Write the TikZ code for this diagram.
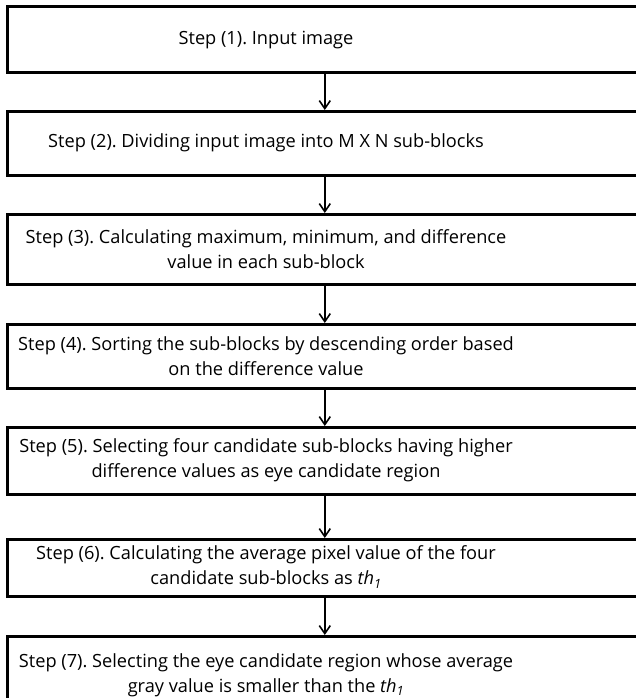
\documentclass[tikz,border=0pt]{standalone}
\usepackage{fontspec}
\setmainfont{Open Sans}
\usetikzlibrary{arrows.meta}
\begin{document}
\frenchspacing
\begin{tikzpicture}[x=1pt,y=-1pt,
  stepbox/.style={draw=black,line width=2.6pt,minimum width=635pt,
    inner sep=0pt,anchor=north west},
  steptext/.style={align=center,inner sep=0pt,
    font=\fontsize{18.2}{25}\selectfont},
  flow/.style={draw=black,line width=1.6pt,
    -{Straight Barb[length=8pt,width=11pt,line width=1.6pt]}}]
\useasboundingbox (0,0) rectangle (636,698);
\fill[white] (0,0) rectangle (636,698);

% boxes
\node[stepbox,minimum height=66pt] (b1) at (6,5)   {};
\node[stepbox,minimum height=64pt] (b2) at (6,110) {};
\node[stepbox,minimum height=70pt] (b3) at (6,213) {};
\node[stepbox,minimum height=64pt] (b4) at (6,323) {};
\node[stepbox,minimum height=67pt] (b5) at (6,426) {};
\node[stepbox,minimum height=57pt] (b6) at (6,538) {};
\node[stepbox,minimum height=72pt] (b7) at (6,635) {};

% labels
\node[steptext] (t1) at (266,40)  {Step (1). Input image};
\node[steptext] (t2) at (266,143) {Step (2). Dividing input image into M X N sub-blocks};
\node[steptext] (t3) at (266,249) {Step (3). Calculating maximum, minimum, and difference\\value in each sub-block};
\node[steptext] (t4) at (266,356) {Step (4). Sorting the sub-blocks by descending order based\\on the difference value};
\node[steptext] (t5) at (266,460) {Step (5). Selecting four candidate sub-blocks having higher\\difference values as eye candidate region};
\node[steptext] (t6) at (266,567) {Step (6). Calculating the average pixel value of the four\\candidate sub-blocks as \textit{th}\textsubscript{\textit{1}}};
\node[steptext] (t7) at (266,675) {Step (7). Selecting the eye candidate region whose average\\gray value is smaller than the \textit{th}\textsubscript{\textit{1}}};

% connectors
\draw[flow] (b1.south) -- (b2.north);
\draw[flow] (b2.south) -- (b3.north);
\draw[flow] (b3.south) -- (b4.north);
\draw[flow] (b4.south) -- (b5.north);
\draw[flow] (b5.south) -- (b6.north);
\draw[flow] (b6.south) -- (b7.north);
\end{tikzpicture}
\end{document}
